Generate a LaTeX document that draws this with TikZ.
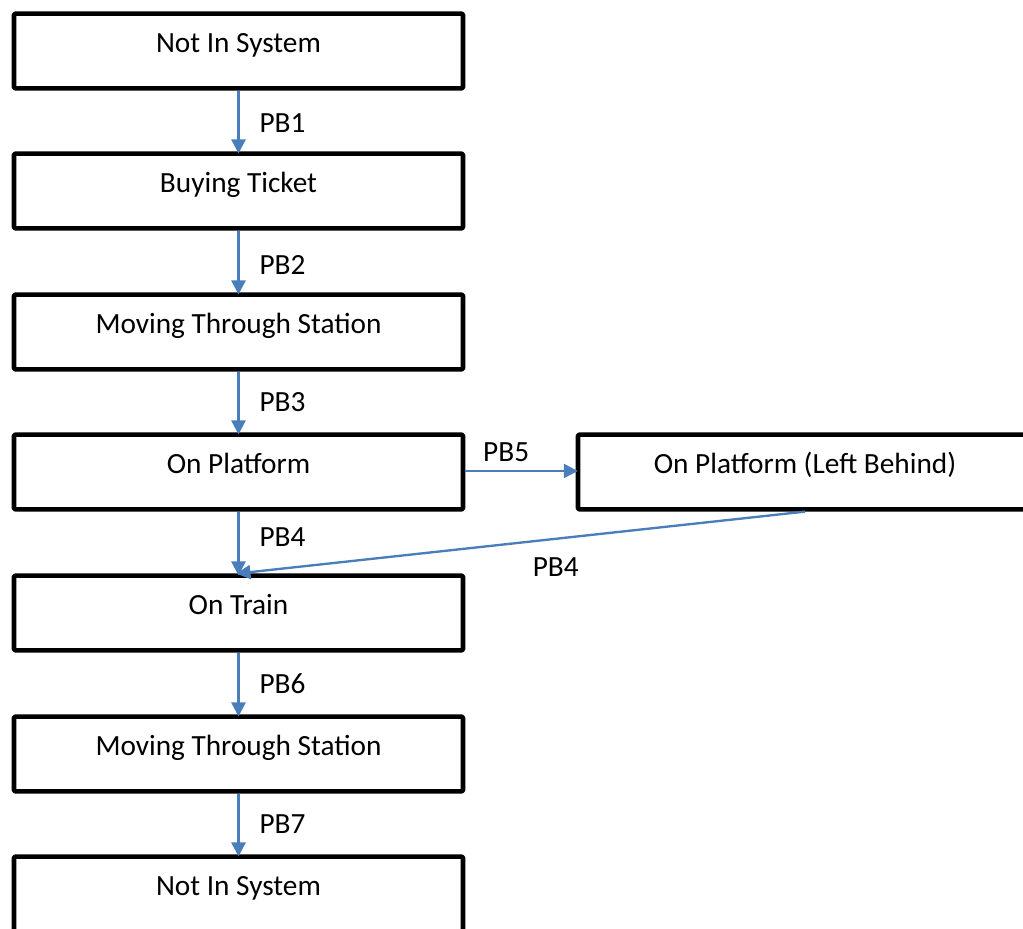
\documentclass[tikz,border=0pt]{standalone}
\usepackage{fontspec}
\setmainfont{Carlito}
\usetikzlibrary{arrows.meta}
\definecolor{pbblue}{RGB}{74,126,187}
\begin{document}
\begin{tikzpicture}[x=0.03cm, y=-0.03cm, line join=round, font=\fontsize{25}{30}\selectfont,
	state/.style={draw, line width=3.9pt, rounded corners=1pt, inner sep=0pt, minimum width=13.47cm, text height=1.17cm, text depth=1.07cm},
	trans/.style={draw=pbblue, line width=2pt, -{Triangle[width=12pt,length=12pt]}, shorten >=-1.8pt},
	lbl/.style={inner sep=0pt, text=black}]
	\clip (0,0) rectangle (1023,929);
	\node[state] (nis) at (238.5,51) {Not In System};
	\node[state] (buy) at (238.5,191) {Buying Ticket};
	\node[state] (mts) at (238.5,332) {Moving Through Station};
	\node[state] (plat) at (238.5,472) {On Platform};
	\node[state, minimum width=13.62cm] (left) at (805,472) {On Platform (Left Behind)};
	\node[state] (train) at (238.5,613) {On Train};
	\node[state] (mts2) at (238.5,754) {Moving Through Station};
	\node[state] (out) at (238.5,894) {Not In System};
	\draw[trans] (nis) -- node[lbl, right=17pt, pos=0.53]{PB1} (buy);
	\draw[trans] (buy) -- node[lbl, right=17pt, pos=0.55]{PB2} (mts);
	\draw[trans] (mts) -- node[lbl, right=17pt, pos=0.5]{PB3} (plat);
	\draw[trans] (plat) -- node[lbl, right=17pt, pos=0.42]{PB4} (train);
	\draw[trans] (plat.east |- 0,471) -- node[lbl, above=7pt, pos=0.37]{PB5} (left.west |- 0,471);
	\draw[trans] (left.south) -- node[lbl, below=15pt, pos=0.44]{PB4} (train.north);
	\draw[trans] (train) -- node[lbl, right=17pt, pos=0.5]{PB6} (mts2);
	\draw[trans] (mts2) -- node[lbl, right=17pt, pos=0.5]{PB7} (out);
\end{tikzpicture}
\end{document}
